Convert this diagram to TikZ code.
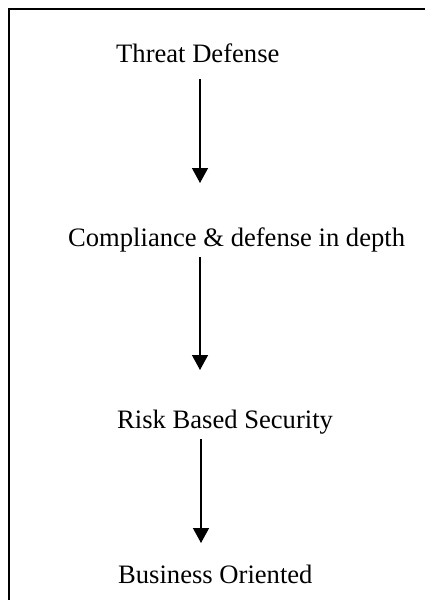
\documentclass[tikz,border=0pt]{standalone}
\usepackage{fontspec}
\setmainfont{Liberation Serif}
\usetikzlibrary{arrows.meta}
\begin{document}
\begin{tikzpicture}[x=1pt,y=-1pt,
  label text/.style={anchor=base west,inner sep=0pt,font=\fontsize{26.6}{31}\selectfont},
  flow arrow/.style={line width=1.4pt,-{Triangle[width=16pt,length=15pt]}},
  frame line/.style={line width=2pt}]
\useasboundingbox (0,0) rectangle (425,600);
\draw[frame line] (8.5,600) -- (8.5,9) -- (425,9);
\node[label text] (t1) at (116,62.5) {Threat Defense};
\node[label text] (t2) at (68,246) {Compliance \& defense in depth};
\node[label text] (t3) at (117,428) {Risk Based Security};
\node[label text] (t4) at (118,583) {Business Oriented};
\coordinate (a1s) at (200,79);
\coordinate (a1e) at (200,183);
\coordinate (a2s) at (200,257);
\coordinate (a2e) at (200,370);
\coordinate (a3s) at (201,439);
\coordinate (a3e) at (201,543);
\draw[flow arrow] (a1s) -- (a1e);
\draw[flow arrow] (a2s) -- (a2e);
\draw[flow arrow] (a3s) -- (a3e);
\end{tikzpicture}
\end{document}
